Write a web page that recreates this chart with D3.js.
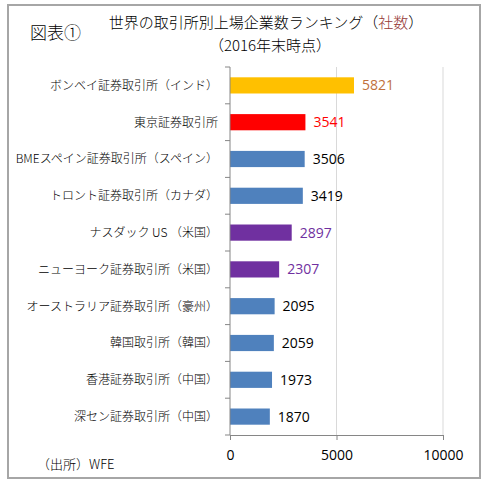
<!DOCTYPE html>
<html>
<head>
<meta charset="utf-8">
<script src="https://cdn.jsdelivr.net/npm/d3@7"></script>
<style>
  body { margin: 0; background: #fff; }
  svg { display: block; }
</style>
</head>
<body>
<div id="chart"></div>
<script>
// data
var exchanges = ["ボンベイ証券取引所（インド）", "東京証券取引所", "BMEスペイン証券取引所（スペイン）",
  "トロント証券取引所（カナダ）", "ナスダック US （米国）", "ニューヨーク証券取引所（米国）",
  "オーストラリア証券取引所（豪州）", "韓国取引所（韓国）", "香港証券取引所（中国）", "深セン証券取引所（中国）"];
var listed = [5821, 3541, 3506, 3419, 2897, 2307, 2095, 2059, 1973, 1870];
var barColors = ["#FFC000", "#FF0000", "#4F81BD", "#4F81BD", "#7030A0", "#7030A0", "#4F81BD", "#4F81BD", "#4F81BD", "#4F81BD"];
var labelColors = ["#C0703C", "#FF0000", "#000000", "#000000", "#7030A0", "#7030A0", "#000000", "#000000", "#000000", "#000000"];
var xTicks = [0, 5000, 10000];

var w = 492, h = 485;
var jp = "'Noto Sans CJK JP', 'Noto Sans', sans-serif";
var num = "'Open Sans', 'DejaVu Sans', sans-serif";

var svg = d3.select("#chart").append("svg")
  .attr("width", w)
  .attr("height", h);

// outer frame
svg.append("rect")
  .attr("x", 8).attr("y", 5)
  .attr("width", 472).attr("height", 473)
  .attr("fill", "#fff")
  .attr("stroke", "#a6a6a6")
  .attr("stroke-width", 2);

var x = d3.scaleLinear().domain([0, 10000]).range([230, 443]);
var y = d3.scaleBand().domain(exchanges).range([67, 435])
  .paddingInner(0.56).paddingOuter(0.28);

// gridlines
svg.selectAll("line.grid")
  .data(xTicks.slice(1))
  .enter().append("line")
  .attr("class", "grid")
  .attr("x1", function (d) { return x(d); })
  .attr("x2", function (d) { return x(d); })
  .attr("y1", 67).attr("y2", 435)
  .attr("stroke", "#d9d9d9");

// bars
svg.selectAll("rect.bar")
  .data(listed)
  .enter().append("rect")
  .attr("class", "bar")
  .attr("x", x(0))
  .attr("y", function (d, i) { return y(exchanges[i]); })
  .attr("width", function (d) { return x(d) - x(0); })
  .attr("height", y.bandwidth())
  .attr("fill", function (d, i) { return barColors[i]; });

// value labels
svg.selectAll("text.val")
  .data(listed)
  .enter().append("text")
  .attr("class", "val")
  .attr("x", function (d) { return x(d) + 8; })
  .attr("y", function (d, i) { return y(exchanges[i]) + y.bandwidth() / 2; })
  .attr("dy", "0.36em")
  .attr("font-family", num)
  .attr("font-size", 14)
  .attr("fill", function (d, i) { return labelColors[i]; })
  .text(function (d) { return d; });

// category axis (excel style, ticks between bands)
var axisCol = "#868686";
svg.append("line")
  .attr("x1", x(0)).attr("x2", x(0))
  .attr("y1", 67).attr("y2", 435)
  .attr("stroke", axisCol);
var bounds = d3.range(exchanges.length + 1).map(function (i) { return 67 + i * y.step(); });
svg.selectAll("line.ytick")
  .data(bounds)
  .enter().append("line")
  .attr("class", "ytick")
  .attr("x1", x(0) - 5).attr("x2", x(0))
  .attr("y1", function (d) { return d; })
  .attr("y2", function (d) { return d; })
  .attr("stroke", axisCol);

svg.selectAll("text.cat")
  .data(exchanges)
  .enter().append("text")
  .attr("class", "cat")
  .attr("x", 218)
  .attr("y", function (d) { return y(d) + y.bandwidth() / 2; })
  .attr("dy", "0.36em")
  .attr("text-anchor", "end")
  .attr("font-family", jp)
  .attr("font-weight", 300)
  .attr("font-size", 12)
  .attr("fill", "#000")
  .text(function (d) { return d; });

// value axis
var xAxis = svg.append("g")
  .attr("transform", "translate(0,435)")
  .call(d3.axisBottom(x).tickValues(xTicks).tickSize(5).tickPadding(10).tickFormat(d3.format("d")));
xAxis.select(".domain").attr("stroke", axisCol);
xAxis.selectAll(".tick line").attr("stroke", axisCol);
xAxis.selectAll(".tick text")
  .attr("font-family", num)
  .attr("font-size", 14)
  .attr("fill", "#000");

// titles
svg.append("text")
  .attr("x", 30).attr("y", 39)
  .attr("font-family", jp).attr("font-weight", 300).attr("font-size", 17)
  .text("図表①");

var t1 = svg.append("text")
  .attr("x", 266).attr("y", 28)
  .attr("text-anchor", "middle")
  .attr("font-family", jp).attr("font-weight", 300).attr("font-size", 15);
t1.append("tspan").text("世界の取引所別上場企業数ランキング（");
t1.append("tspan").attr("fill", "#953735").text("社数");
t1.append("tspan").text("）");

svg.append("text")
  .attr("x", 270).attr("y", 51)
  .attr("text-anchor", "middle")
  .attr("font-family", jp).attr("font-weight", 300).attr("font-size", 15)
  .text("（2016年末時点）");

svg.append("text")
  .attr("x", 37).attr("y", 469)
  .attr("font-family", jp).attr("font-weight", 300).attr("font-size", 13)
  .text("（出所）WFE");
</script>
</body>
</html>
